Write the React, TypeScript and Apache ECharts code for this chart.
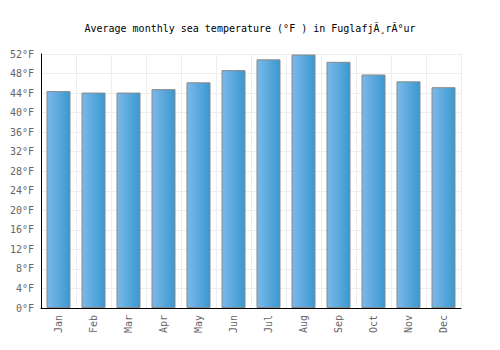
import React, { useEffect, useRef } from "react";
import * as echarts from "echarts";

const months = ["Jan", "Feb", "Mar", "Apr", "May", "Jun", "Jul", "Aug", "Sep", "Oct", "Nov", "Dec"];
const seaTempF = [44.4, 44.1, 44.1, 44.8, 46.2, 48.7, 50.9, 51.9, 50.4, 47.8, 46.4, 45.2];
const titleText = "Average monthly sea temperature (°F ) in FuglafjÃ¸rÃ°ur";

export default function App() {
  const ref = useRef<HTMLDivElement>(null);
  useEffect(() => {
    if (!ref.current) return;
    const chart = echarts.init(ref.current, null, { renderer: "svg" });
    const font = "'DejaVu Sans Mono', monospace";
    chart.setOption({
      animation: false,
      backgroundColor: "#fff",
      title: {
        text: titleText,
        left: "center",
        top: 18,
        textStyle: { fontFamily: font, fontSize: 10, fontWeight: "normal", color: "#000" },
      },
      grid: { left: 41, right: 39, top: 54, bottom: 42, containLabel: false },
      xAxis: {
        type: "category",
        data: months,
        boundaryGap: true,
        axisLine: { show: true, lineStyle: { color: "#000", width: 1 } },
        axisTick: { show: false },
        axisLabel: { rotate: 90, fontFamily: font, fontSize: 10, color: "#666", margin: 7 },
        splitLine: { show: true, lineStyle: { color: "#eee", width: 1 } },
      },
      yAxis: {
        type: "value",
        min: 0,
        max: 52,
        interval: 4,
        axisLine: { show: true, lineStyle: { color: "#000", width: 1 } },
        axisTick: { show: false },
        axisLabel: { formatter: "{value}°F", fontFamily: font, fontSize: 10, color: "#666", margin: 7 },
        splitLine: { show: true, lineStyle: { color: "#eee", width: 1 } },
      },
      series: [
        {
          type: "bar",
          data: seaTempF,
          barWidth: 24,
          itemStyle: {
            color: new echarts.graphic.LinearGradient(0, 0, 1, 0, [
              { offset: 0, color: "#7cb9ea" },
              { offset: 1, color: "#3a98d0" },
            ]),
            borderColor: "#888",
            borderWidth: 1,
          },
        },
      ],
    });
    return () => chart.dispose();
  }, []);
  return <div ref={ref} style={{ width: 500, height: 350, position: "absolute", left: 0, top: 0 }} />;
}
